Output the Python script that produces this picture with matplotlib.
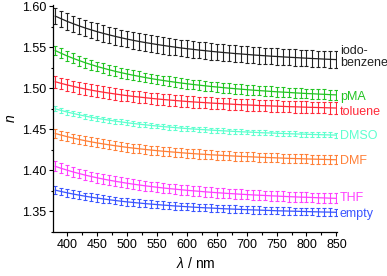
import matplotlib
matplotlib.use("Agg")
import matplotlib.pyplot as plt
from matplotlib.ticker import MultipleLocator

plt.rcParams['font.family'] = ['Liberation Sans', 'DejaVu Sans']
plt.rcParams['mathtext.fontset'] = 'custom'
plt.rcParams['mathtext.it'] = 'Liberation Sans:italic'
plt.rcParams['mathtext.rm'] = 'Liberation Sans'

wavelength = [380, 390, 400, 410, 420, 430, 440, 450, 460, 470, 480, 490, 500, 510, 520, 530,
              540, 550, 560, 570, 580, 590, 600, 610, 620, 630, 640, 650, 660, 670, 680, 690,
              700, 710, 720, 730, 740, 750, 760, 770, 780, 790, 800, 810, 820, 830, 840, 850]

iodobenzene = [1.5880, 1.5847, 1.5815, 1.5787, 1.5760, 1.5735, 1.5712, 1.5690, 1.5670, 1.5651,
               1.5633, 1.5616, 1.5600, 1.5585, 1.5571, 1.5558, 1.5546, 1.5534, 1.5523, 1.5512,
               1.5502, 1.5492, 1.5483, 1.5475, 1.5466, 1.5459, 1.5451, 1.5444, 1.5437, 1.5431,
               1.5424, 1.5419, 1.5413, 1.5407, 1.5402, 1.5397, 1.5392, 1.5388, 1.5383, 1.5379,
               1.5375, 1.5371, 1.5367, 1.5363, 1.5360, 1.5356, 1.5353, 1.5350]
pma = [1.5460, 1.5426, 1.5394, 1.5365, 1.5338, 1.5312, 1.5289, 1.5266, 1.5246, 1.5226,
       1.5208, 1.5191, 1.5175, 1.5160, 1.5146, 1.5132, 1.5119, 1.5107, 1.5096, 1.5085,
       1.5075, 1.5065, 1.5056, 1.5047, 1.5039, 1.5031, 1.5023, 1.5016, 1.5009, 1.5002,
       1.4996, 1.4990, 1.4984, 1.4978, 1.4973, 1.4968, 1.4963, 1.4958, 1.4954, 1.4950,
       1.4945, 1.4941, 1.4937, 1.4934, 1.4930, 1.4927, 1.4923, 1.4920]
toluene = [1.5080, 1.5060, 1.5041, 1.5024, 1.5007, 1.4992, 1.4978, 1.4965, 1.4953, 1.4942,
           1.4931, 1.4921, 1.4911, 1.4902, 1.4894, 1.4886, 1.4878, 1.4871, 1.4864, 1.4858,
           1.4852, 1.4846, 1.4840, 1.4835, 1.4830, 1.4826, 1.4821, 1.4817, 1.4813, 1.4809,
           1.4805, 1.4801, 1.4798, 1.4795, 1.4791, 1.4788, 1.4786, 1.4783, 1.4780, 1.4777,
           1.4775, 1.4773, 1.4770, 1.4768, 1.4766, 1.4764, 1.4762, 1.4760]
dmso = [1.4750, 1.4730, 1.4711, 1.4694, 1.4677, 1.4662, 1.4648, 1.4635, 1.4623, 1.4612,
        1.4601, 1.4591, 1.4581, 1.4572, 1.4564, 1.4556, 1.4548, 1.4541, 1.4534, 1.4528,
        1.4522, 1.4516, 1.4510, 1.4505, 1.4500, 1.4496, 1.4491, 1.4487, 1.4483, 1.4479,
        1.4475, 1.4471, 1.4468, 1.4465, 1.4461, 1.4458, 1.4456, 1.4453, 1.4450, 1.4447,
        1.4445, 1.4443, 1.4440, 1.4438, 1.4436, 1.4434, 1.4432, 1.4430]
dmf = [1.4450, 1.4430, 1.4411, 1.4394, 1.4377, 1.4362, 1.4348, 1.4335, 1.4323, 1.4312,
       1.4301, 1.4291, 1.4281, 1.4272, 1.4264, 1.4256, 1.4248, 1.4241, 1.4234, 1.4228,
       1.4222, 1.4216, 1.4210, 1.4205, 1.4200, 1.4196, 1.4191, 1.4187, 1.4183, 1.4179,
       1.4175, 1.4171, 1.4168, 1.4165, 1.4161, 1.4158, 1.4156, 1.4153, 1.4150, 1.4147,
       1.4145, 1.4143, 1.4140, 1.4138, 1.4136, 1.4134, 1.4132, 1.4130]
thf = [1.4050, 1.4025, 1.4003, 1.3981, 1.3962, 1.3943, 1.3926, 1.3910, 1.3895, 1.3881,
       1.3868, 1.3856, 1.3844, 1.3833, 1.3823, 1.3813, 1.3804, 1.3795, 1.3787, 1.3779,
       1.3772, 1.3765, 1.3758, 1.3752, 1.3746, 1.3740, 1.3734, 1.3729, 1.3724, 1.3719,
       1.3715, 1.3710, 1.3706, 1.3702, 1.3698, 1.3695, 1.3691, 1.3688, 1.3684, 1.3681,
       1.3678, 1.3675, 1.3673, 1.3670, 1.3667, 1.3665, 1.3662, 1.3660]
empty = [1.3760, 1.3743, 1.3727, 1.3712, 1.3699, 1.3686, 1.3674, 1.3663, 1.3653, 1.3643,
         1.3634, 1.3625, 1.3617, 1.3610, 1.3603, 1.3596, 1.3590, 1.3584, 1.3578, 1.3573,
         1.3567, 1.3563, 1.3558, 1.3553, 1.3549, 1.3545, 1.3542, 1.3538, 1.3534, 1.3531,
         1.3528, 1.3525, 1.3522, 1.3519, 1.3517, 1.3514, 1.3512, 1.3509, 1.3507, 1.3505,
         1.3503, 1.3501, 1.3499, 1.3497, 1.3495, 1.3493, 1.3492, 1.3490]

series = [iodobenzene, pma, toluene, dmso, dmf, thf, empty]
labels = ["iodo-\nbenzene", "pMA", "toluene", "DMSO", "DMF", "THF", "empty"]
errors = [0.010, 0.006, 0.007, 0.003, 0.0055, 0.006, 0.0045]
label_y = [1.538, 1.490, 1.471, 1.442, 1.411, 1.367, 1.347]
colors = ["#222222", "#22c422", "#ff2a3a", "#5fffcf", "#ff8038", "#ff40ff", "#3a55ff"]

fig = plt.figure(figsize=(3.87, 2.76), dpi=100)
ax = fig.add_axes([53.5 / 387, 1 - 232 / 276, (337 - 53.5) / 387, (232 - 5) / 276])

for ys, lab, err, ly, c in zip(series, labels, errors, label_y, colors):
    ax.errorbar(wavelength, ys, yerr=err, color=c, lw=0.9, elinewidth=0.8,
                capsize=1.4, capthick=0.8)
    ax.text(1.01, ly, lab, color=c, fontsize=9, va='center', ha='left',
            transform=ax.get_yaxis_transform(), linespacing=1.05)

ax.set_xlim(377, 851)
ax.set_ylim(1.325, 1.6015)
ax.xaxis.set_minor_locator(MultipleLocator(25))
ax.yaxis.set_major_locator(MultipleLocator(0.05))
ax.yaxis.set_minor_locator(MultipleLocator(0.025))
ax.set_xticks([400, 450, 500, 550, 600, 650, 700, 750, 800, 850])
ax.yaxis.set_major_formatter(matplotlib.ticker.FormatStrFormatter('%.2f'))
ax.tick_params(which='major', direction='out', length=3, width=0.8, labelsize=9, pad=2)
ax.tick_params(which='minor', direction='out', length=1.8, width=0.8)
for s in ['top', 'right']:
    ax.spines[s].set_visible(False)
for s in ['left', 'bottom']:
    ax.spines[s].set_linewidth(0.9)

ax.set_xlabel(r'$\lambda$ / nm', fontsize=10, labelpad=4)
ax.set_ylabel(r'$n$', fontsize=10, labelpad=3)

fig.savefig('out.png', dpi=100)
